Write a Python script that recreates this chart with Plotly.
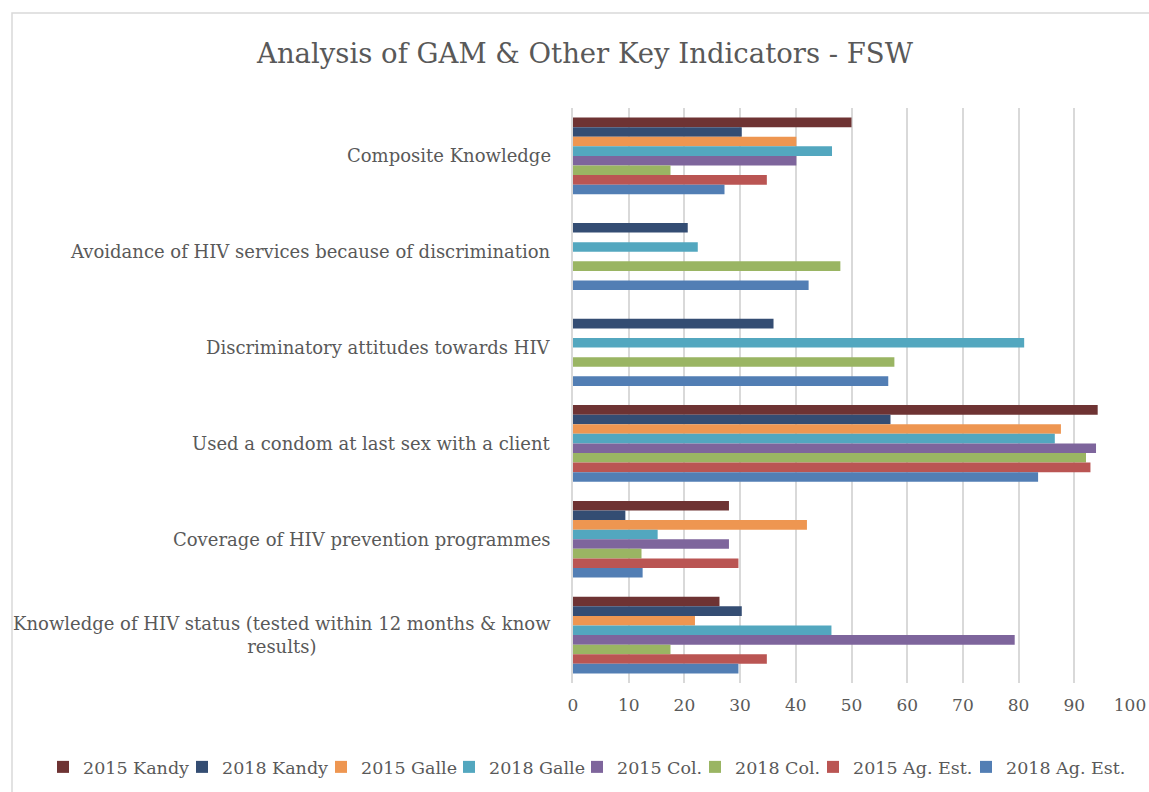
import plotly.graph_objects as go

categories = [
    "Composite Knowledge",
    "Avoidance of HIV services because of discrimination",
    "Discriminatory attitudes towards HIV",
    "Used a condom at last sex with a client",
    "Coverage of HIV prevention programmes",
    "Knowledge of HIV status (tested within 12 months & know<br>results)",
]

series_names = ["2015 Kandy", "2018 Kandy", "2015 Galle", "2018 Galle",
                "2015 Col.", "2018 Col.", "2015 Ag. Est.", "2018 Ag. Est."]

kandy_2015 = [50.0, None, None, 94.2, 28.0, 26.3]
kandy_2018 = [30.3, 20.6, 36.0, 57.0, 9.4, 30.3]
galle_2015 = [40.1, None, None, 87.6, 42.0, 21.9]
galle_2018 = [46.5, 22.4, 81.0, 86.5, 15.2, 46.4]
col_2015 = [40.1, None, None, 93.9, 28.0, 79.3]
col_2018 = [17.5, 48.0, 57.7, 92.1, 12.3, 17.5]
ag_2015 = [34.8, None, None, 92.9, 29.7, 34.8]
ag_2018 = [27.2, 42.3, 56.6, 83.5, 12.5, 29.7]

series_values = [kandy_2015, kandy_2018, galle_2015, galle_2018,
                 col_2015, col_2018, ag_2015, ag_2018]
colors = ["#6E3333", "#344D73", "#EE9651", "#53A7BF",
          "#7E659C", "#9AB563", "#BA5553", "#527EB4"]

x_ticks = list(range(0, 101, 10))

FONT = "DejaVu Serif"
GRAY = "#595959"

# left pixel position of each legend entry box (layout only)
legend_left_px = [43, 182, 321, 449, 577, 695, 813, 966]

fig = go.Figure()
legend_layouts = {}
for i, (name, vals, col) in enumerate(zip(series_names, series_values, colors)):
    lname = "legend" if i == 0 else f"legend{i + 1}"
    fig.add_trace(go.Bar(
        name=name, y=categories, x=vals, orientation="h",
        marker=dict(color=col, line=dict(width=0)),
        legend=lname,
    ))
    legend_layouts[lname] = dict(
        orientation="h", xref="paper", yref="paper",
        x=(legend_left_px[i] - 573) / 557, xanchor="left",
        y=(683 - 767) / 575, yanchor="middle",
        font=dict(family=FONT, size=17.5, color=GRAY),
        itemwidth=30, bgcolor="rgba(0,0,0,0)", borderwidth=0,
    )

for cat in categories:
    fig.add_annotation(
        x=0, xref="paper", y=cat, yref="y", xanchor="right", yanchor="middle",
        xshift=-20, text=cat, showarrow=False, align="center",
        font=dict(family=FONT, size=18, color=GRAY),
    )

# chart-area border
fig.add_shape(type="rect", xref="paper", yref="paper",
              x0=(12 - 573) / 557, x1=(1160 - 573) / 557,
              y0=(683 - 800) / 575, y1=(683 - 13) / 575,
              line=dict(color="#D9D9D9", width=1.5), layer="below")

fig.update_layout(
    width=1149, height=792,
    barmode="group", bargap=0.2, bargroupgap=0,
    plot_bgcolor="white", paper_bgcolor="white",
    margin=dict(l=573, r=19, t=108, b=109, autoexpand=False),
    title=dict(text="Analysis of GAM & Other Key Indicators - FSW",
               x=585 / 1149, xanchor="center", y=(792 - 53) / 792, yanchor="middle",
               font=dict(family=FONT, size=27.5, color=GRAY)),
    xaxis=dict(range=[0, 100], tickvals=x_ticks, showgrid=True,
               gridcolor="#D9D9D9", gridwidth=1.5, zeroline=False,
               showline=False, ticks="", automargin=False,
               ticklabelstandoff=10,
               tickfont=dict(family=FONT, size=17, color=GRAY)),
    yaxis=dict(autorange="reversed", showticklabels=False, showgrid=False,
               zeroline=False, showline=True, linecolor="#D9D9D9",
               linewidth=1.5, ticks="", automargin=False),
    showlegend=True,
    **legend_layouts,
)

fig.write_html("out.html", post_script="document.body.style.margin='0';",
               config={"displayModeBar": False})
